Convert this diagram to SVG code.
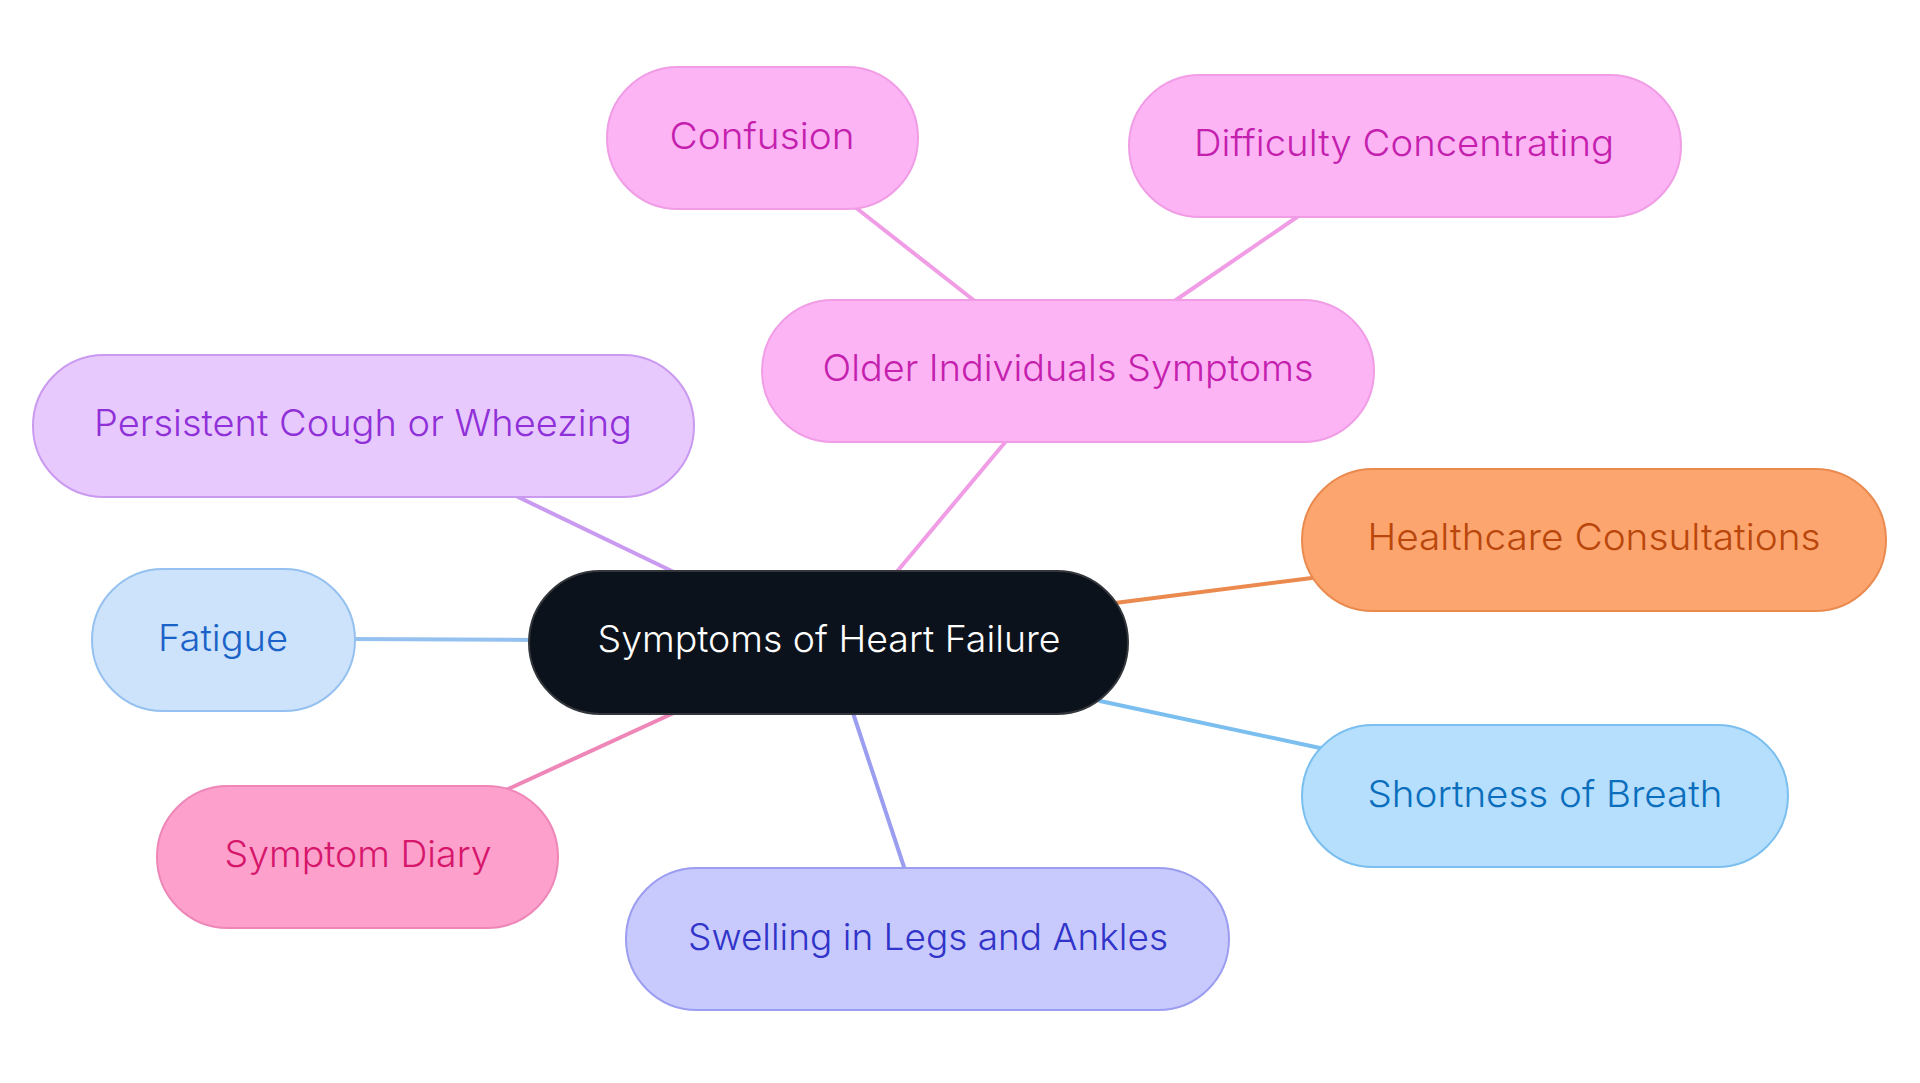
<svg xmlns="http://www.w3.org/2000/svg" width="1920" height="1083" viewBox="0 0 1920 1083">
<style>
.edge{fill:none;stroke-width:4;stroke-linecap:round}
.box{stroke-width:2}
.lbl{font-family:Inter,"Noto Sans","Liberation Sans",sans-serif;font-size:37px;font-weight:300;text-anchor:middle}
</style>
<rect width="1920" height="1083" fill="#ffffff"/>
<g id="connectors">
<line class="edge" x1="890" y1="580" x2="1007" y2="440" stroke="#f09de6"/>
<line class="edge" x1="976" y1="302" x2="855" y2="207" stroke="#f09de6"/>
<line class="edge" x1="1173" y1="302" x2="1300" y2="215" stroke="#f09de6"/>
<line class="edge" x1="680" y1="575" x2="514" y2="495" stroke="#c99af0"/>
<line class="edge" x1="535" y1="640" x2="352" y2="639" stroke="#95c1f0"/>
<line class="edge" x1="1115" y1="603" x2="1312" y2="578" stroke="#ea8a4f"/>
<line class="edge" x1="1100" y1="701" x2="1320" y2="748" stroke="#7bbff0"/>
<line class="edge" x1="678" y1="711" x2="506" y2="790" stroke="#ee86b8"/>
<line class="edge" x1="852" y1="710" x2="905" y2="870" stroke="#9b9ef0"/>
</g>
<g id="node-central">
<rect class="box" x="529" y="571" width="599" height="143" rx="71.5" fill="#0c121b" stroke="#33373c"/>
<text class="lbl" x="829" y="652" fill="#ffffff" textLength="463" lengthAdjust="spacingAndGlyphs">Symptoms of Heart Failure</text>
</g>
<g id="node-older">
<rect class="box" x="762" y="300" width="612" height="142" rx="71" fill="#fcb4f4" stroke="#f09de6"/>
<text class="lbl" x="1068" y="381" fill="#c41fae" textLength="491" lengthAdjust="spacingAndGlyphs">Older Individuals Symptoms</text>
</g>
<g id="node-confusion">
<rect class="box" x="607" y="67" width="311" height="142" rx="71" fill="#fcb4f4" stroke="#f09de6"/>
<text class="lbl" x="762" y="149" fill="#c41fae" textLength="185" lengthAdjust="spacingAndGlyphs">Confusion</text>
</g>
<g id="node-difficulty">
<rect class="box" x="1129" y="75" width="552" height="142" rx="71" fill="#fcb4f4" stroke="#f09de6"/>
<text class="lbl" x="1404" y="156" fill="#c41fae" textLength="420" lengthAdjust="spacingAndGlyphs">Difficulty Concentrating</text>
</g>
<g id="node-persistent">
<rect class="box" x="33" y="355" width="661" height="142" rx="71" fill="#e8c9fd" stroke="#c99af0"/>
<text class="lbl" x="363" y="436" fill="#8f30d8" textLength="538" lengthAdjust="spacingAndGlyphs">Persistent Cough or Wheezing</text>
</g>
<g id="node-healthcare">
<rect class="box" x="1302" y="469" width="584" height="142" rx="71" fill="#fda56f" stroke="#ea8a4f"/>
<text class="lbl" x="1594" y="550" fill="#b9470b" textLength="453" lengthAdjust="spacingAndGlyphs">Healthcare Consultations</text>
</g>
<g id="node-fatigue">
<rect class="box" x="92" y="569" width="263" height="142" rx="71" fill="#cde3fb" stroke="#95c1f0"/>
<text class="lbl" x="223" y="651" fill="#1a62c8" textLength="130" lengthAdjust="spacingAndGlyphs">Fatigue</text>
</g>
<g id="node-shortness">
<rect class="box" x="1302" y="725" width="486" height="142" rx="71" fill="#b5dffc" stroke="#7bbff0"/>
<text class="lbl" x="1545" y="807" fill="#0a6ebd" textLength="355" lengthAdjust="spacingAndGlyphs">Shortness of Breath</text>
</g>
<g id="node-diary">
<rect class="box" x="157" y="786" width="401" height="142" rx="71" fill="#fda0cb" stroke="#ee86b8"/>
<text class="lbl" x="358" y="867" fill="#d6166b" textLength="267" lengthAdjust="spacingAndGlyphs">Symptom Diary</text>
</g>
<g id="node-swelling">
<rect class="box" x="626" y="868" width="603" height="142" rx="71" fill="#c8c9fc" stroke="#9b9ef0"/>
<text class="lbl" x="928" y="950" fill="#3034c9" textLength="480" lengthAdjust="spacingAndGlyphs">Swelling in Legs and Ankles</text>
</g>
</svg>
